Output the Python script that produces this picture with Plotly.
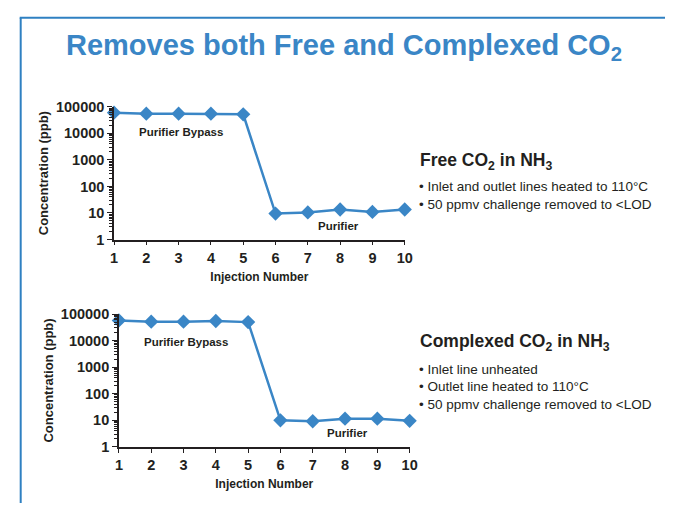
import plotly.graph_objects as go

injections = [1, 2, 3, 4, 5, 6, 7, 8, 9, 10]
free_co2 = [60000, 55000, 55000, 55000, 52000, 9.5, 10.5, 13.5, 11, 13.5]
complexed_co2 = [58000, 52000, 52000, 55000, 50000, 10, 9.2, 11.5, 11.5, 9.5]
y_tickvals = [1, 10, 100, 1000, 10000, 100000]
y_ticktext = ["1", "10", "100", "1000", "10000", "100000"]

W, H = 673, 511
BLUE = "#3a86c6"
FONT = "Liberation Sans"
INK = "#231f20"

def px(x):
    return x / W

def py(y):
    return 1 - y / H

fig = go.Figure()
for ys, xa, ya in [(free_co2, "x", "y"), (complexed_co2, "x2", "y2")]:
    fig.add_trace(go.Scatter(x=injections, y=ys, mode="lines+markers",
                             line=dict(color=BLUE, width=2.5),
                             marker=dict(symbol="diamond", size=11, color=BLUE),
                             cliponaxis=False, xaxis=xa, yaxis=ya, showlegend=False))

tickfont = dict(family=FONT, size=14.5, color=INK, weight="bold")
xtitlefont = dict(family=FONT, size=12, color=INK, weight="bold")
ytitlefont = dict(family=FONT, size=13, color=INK, weight="bold")

def xaxis(domain, anchor):
    return dict(domain=domain, anchor=anchor, range=[1, 10], tickvals=injections,
                showline=True, linecolor=INK, linewidth=1.5,
                ticks="outside", ticklen=4, tickcolor=INK,
                showgrid=False, zeroline=False, tickfont=tickfont,
                title=dict(text="Injection Number", font=xtitlefont, standoff=8))

def yaxis(domain, anchor):
    return dict(domain=domain, anchor=anchor, type="log", range=[0, 5],
                tickvals=y_tickvals, ticktext=y_ticktext,
                showline=True, linecolor=INK, linewidth=1.5,
                ticks="outside", ticklen=5, tickcolor=INK,
                minor=dict(ticks="outside", ticklen=3, tickcolor=INK, dtick="D1"),
                showgrid=False, zeroline=False, tickfont=tickfont,
                title=dict(text="Concentration (ppb)", font=ytitlefont, standoff=4))

fig.update_layout(
    width=W, height=H,
    margin=dict(l=0, r=0, t=0, b=0),
    paper_bgcolor="white", plot_bgcolor="white",
    xaxis=xaxis([px(112), px(408)], "y"),
    yaxis=yaxis([py(239), py(102)], "x"),
    xaxis2=xaxis([px(117), px(413)], "y2"),
    yaxis2=yaxis([py(453), py(316)], "x2"),
)

annots = [
    dict(text="Removes both Free and Complexed CO<sub>2</sub>", x=px(346), y=py(40),
         font=dict(family=FONT, size=29, color=BLUE, weight="bold")),
    dict(text="Purifier Bypass", x=px(180), y=py(128),
         font=dict(family=FONT, size=11.5, color=INK, weight="bold")),
    dict(text="Purifier", x=px(341), y=py(225),
         font=dict(family=FONT, size=11.5, color=INK, weight="bold")),
    dict(text="Purifier Bypass", x=px(185), y=py(345),
         font=dict(family=FONT, size=11.5, color=INK, weight="bold")),
    dict(text="Purifier", x=px(350), y=py(439),
         font=dict(family=FONT, size=11.5, color=INK, weight="bold")),
]
for a in annots:
    fig.add_annotation(xref="paper", yref="paper", showarrow=False,
                       xanchor="center", yanchor="middle", **a)

side = [
    ("Free CO<sub>2</sub> in NH<sub>3</sub>", 422, 158, 17.5, "bold"),
    ("• Inlet and outlet lines heated to 110°C", 421, 184, 13.5, "normal"),
    ("• 50 ppmv challenge removed to &lt;LOD", 421, 203, 13.5, "normal"),
    ("Complexed CO<sub>2</sub> in NH<sub>3</sub>", 422, 345, 17.5, "bold"),
    ("• Inlet line unheated", 421, 373, 13.5, "normal"),
    ("• Outlet line heated to 110°C", 421, 391, 13.5, "normal"),
    ("• 50 ppmv challenge removed to &lt;LOD", 421, 409, 13.5, "normal"),
]
for text, x, y, size, weight in side:
    fig.add_annotation(xref="paper", yref="paper", showarrow=False,
                       x=px(x), y=py(y), xanchor="left", yanchor="middle",
                       text=text, font=dict(family=FONT, size=size, color=INK, weight=weight))

border = "#2f80c2"
fig.add_shape(type="line", xref="paper", yref="paper", x0=px(17), x1=px(17), y0=0, y1=py(10),
              line=dict(color=border, width=2))
fig.add_shape(type="line", xref="paper", yref="paper", x0=px(16), x1=1, y0=py(10), y1=py(10),
              line=dict(color=border, width=2))

fig.write_html("out.html", config={"displayModeBar": False},
               post_script="document.body.style.margin='0';document.body.style.overflow='hidden';")
